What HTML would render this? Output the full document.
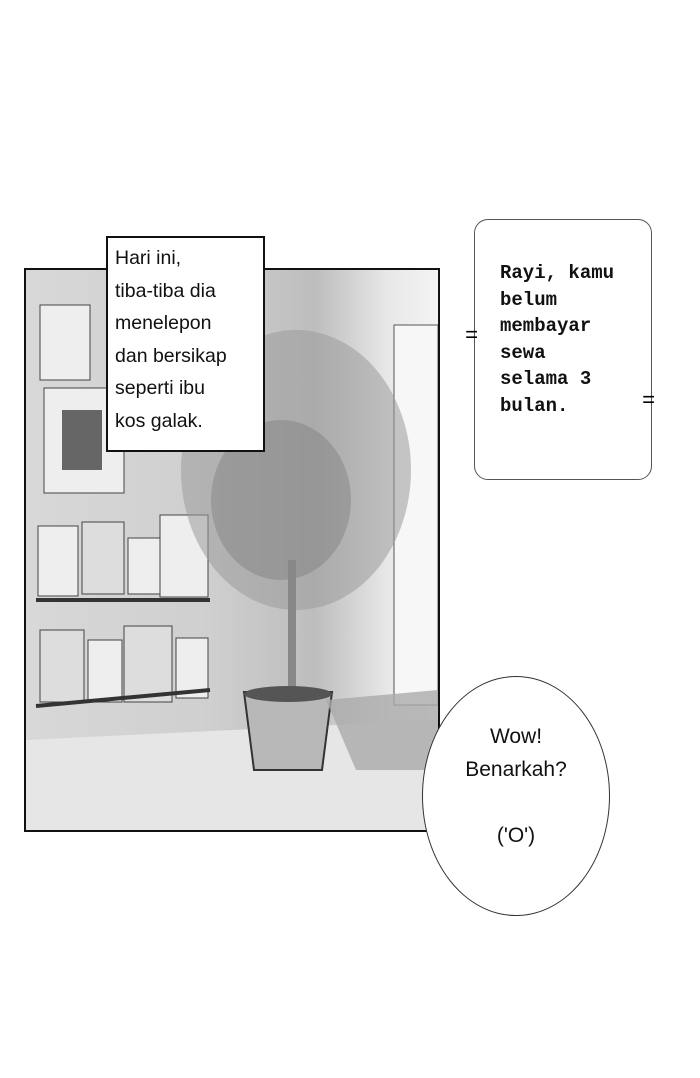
<!DOCTYPE html>
<html><head><meta charset="utf-8"><style>
html,body{margin:0;padding:0;background:#fff;}
body{width:700px;height:1078px;position:relative;overflow:hidden;font-family:"Liberation Sans",sans-serif;}
.panel{position:absolute;left:24px;top:268px;width:412px;height:560px;border:2px solid #111;overflow:hidden;
background:linear-gradient(90deg,#d8d8d8 0%,#cfcfcf 45%,#bdbdbd 70%,#e8e8e8 88%,#f4f4f4 100%);}
.box1{position:absolute;left:106px;top:236px;width:155px;height:212px;border:2px solid #111;background:#fff;
font-size:19.5px;line-height:32.5px;padding:4px 0 0 7px;box-sizing:border-box;width:159px;height:216px;color:#111;}
.box2{position:absolute;left:474px;top:219px;width:178px;height:261px;border:1.5px solid #555;border-radius:14px;background:#fff;box-sizing:border-box;
font-family:"Liberation Mono",monospace;font-weight:bold;font-size:19px;line-height:26.5px;padding:40px 0 0 25px;color:#111;}
.eq{position:absolute;font-size:22px;font-family:"Liberation Mono",monospace;}
.ell{position:absolute;left:422px;top:676px;width:188px;height:240px;border:1.5px solid #333;border-radius:50%;background:#fff;box-sizing:border-box;
text-align:center;font-size:21px;line-height:33px;padding-top:43px;color:#111;}
</style></head><body>
<div class="panel">
<svg width="412" height="560" viewBox="0 0 412 560">
<rect x="0" y="0" width="412" height="560" fill="none"/>
<polygon points="0,470 412,450 412,560 0,560" fill="#e6e6e6"/>
<rect x="14" y="35" width="50" height="75" fill="#eee" stroke="#444"/>
<rect x="18" y="118" width="80" height="105" fill="#eee" stroke="#444"/>
<rect x="36" y="140" width="40" height="60" fill="#666"/>
<rect x="12" y="256" width="40" height="70" fill="#eee" stroke="#444"/>
<rect x="56" y="252" width="42" height="72" fill="#ddd" stroke="#444"/>
<rect x="102" y="268" width="34" height="56" fill="#eee" stroke="#444"/>
<rect x="134" y="245" width="48" height="82" fill="#eee" stroke="#444"/>
<rect x="14" y="360" width="44" height="72" fill="#ddd" stroke="#444"/>
<rect x="62" y="370" width="34" height="62" fill="#eee" stroke="#444"/>
<rect x="98" y="356" width="48" height="76" fill="#ddd" stroke="#444"/>
<rect x="150" y="368" width="32" height="60" fill="#eee" stroke="#444"/>
<line x1="10" y1="330" x2="184" y2="330" stroke="#333" stroke-width="4"/>
<line x1="10" y1="436" x2="184" y2="420" stroke="#333" stroke-width="4"/>
<rect x="368" y="55" width="44" height="380" fill="#f7f7f7" stroke="#555"/>
<ellipse cx="270" cy="200" rx="115" ry="140" fill="#9a9a9a" opacity="0.55"/>
<ellipse cx="255" cy="230" rx="70" ry="80" fill="#777" opacity="0.4"/>
<rect x="262" y="290" width="8" height="140" fill="#888"/>
<polygon points="218,422 306,422 296,500 228,500" fill="#b8b8b8" stroke="#333" stroke-width="2"/>
<ellipse cx="262" cy="424" rx="44" ry="8" fill="#555"/>
<polygon points="300,430 412,420 412,500 330,500" fill="#aaa" opacity="0.8"/>
</svg>
</div>
<div class="box1">Hari ini,<br>tiba-tiba dia<br>menelepon<br>dan bersikap<br>seperti ibu<br>kos galak.</div>
<div class="box2">Rayi, kamu<br>belum<br>membayar<br>sewa<br>selama 3<br>bulan.</div>
<div class="eq" style="left:465px;top:324px;">=</div>
<div class="eq" style="left:642px;top:389px;">=</div>
<div class="ell">Wow!<br>Benarkah?<br><br>('O')</div>
</body></html>
